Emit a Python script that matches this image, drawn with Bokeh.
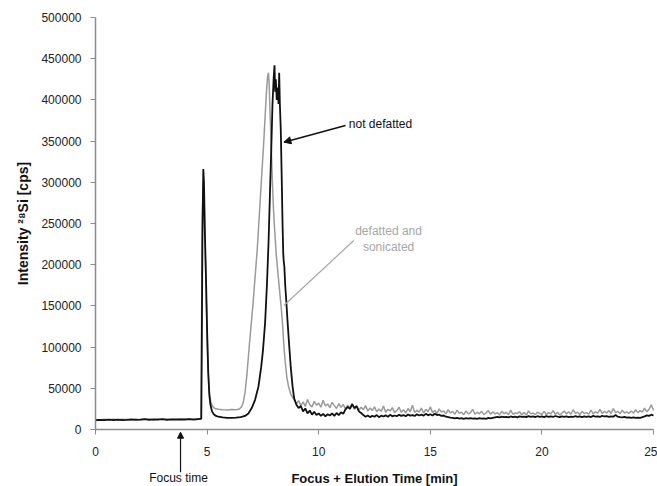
from bokeh.plotting import figure
from bokeh.models import Label, Arrow, NormalHead, Range1d, FixedTicker, PrintfTickFormatter
from bokeh.embed import file_html
from bokeh.resources import INLINE

# ---- data: not defatted (black), up to 9 min ----
t_black_head = [0.0, 0.2, 0.4, 0.6, 0.8, 1.0, 1.2, 1.4, 1.6, 1.8, 2.0, 2.2, 2.4, 2.6, 2.8, 3.0, 3.2, 3.4, 3.6, 3.8,
                4.0, 4.2, 4.4, 4.6, 4.7, 4.74, 4.76, 4.79, 4.83, 4.86, 4.9, 4.95, 5.0, 5.05, 5.1, 5.15, 5.22, 5.3, 5.4, 5.5,
                5.7, 5.9, 6.1, 6.3, 6.5, 6.7, 6.85, 7.0, 7.15, 7.3, 7.42, 7.5, 7.6, 7.68, 7.75, 7.82, 7.88, 7.93, 7.98, 8.02,
                8.05, 8.08, 8.12, 8.16, 8.2, 8.23, 8.26, 8.3, 8.34, 8.38, 8.41, 8.43, 8.46, 8.5, 8.55, 8.6, 8.67, 8.75, 8.83, 8.9]
v_black_head = [11200, 11600, 11300, 11900, 11400, 12100, 11500, 11800, 12300, 11600, 12000, 12600, 11700, 12200, 11900, 12500, 11800, 12300, 12000, 12400,
                11900, 12600, 12100, 12700, 13000, 13000, 90000, 230000, 316000, 300000, 240000, 185000, 120000, 70000, 42000, 30000, 22000, 18500, 16500, 15500,
                14600, 14200, 14000, 14300, 15000, 16500, 19500, 26000, 36000, 52000, 75000, 95000, 130000, 175000, 225000, 290000, 345000, 395000, 425000, 442000,
                410000, 425000, 400000, 415000, 395000, 433000, 395000, 365000, 310000, 250000, 215000, 205000, 198000, 175000, 155000, 133000, 105000, 75000, 52000, 38000]

# ---- data: defatted and sonicated (gray), up to 9 min ----
t_gray_head = [0.0, 0.2, 0.4, 0.6, 0.8, 1.0, 1.2, 1.4, 1.6, 1.8, 2.0, 2.2, 2.4, 2.6, 2.8, 3.0, 3.2, 3.4, 3.6, 3.8,
               4.0, 4.2, 4.4, 4.6, 4.7, 4.73, 4.75, 4.78, 4.82, 4.86, 4.9, 4.95, 5.0, 5.05, 5.1, 5.17, 5.25, 5.35, 5.5, 5.7,
               5.9, 6.1, 6.3, 6.45, 6.55, 6.62, 6.7, 6.78, 6.86, 6.95, 7.05, 7.15, 7.25, 7.35, 7.45, 7.53, 7.6, 7.66, 7.71, 7.75,
               7.78, 7.82, 7.87, 7.92, 7.97, 8.02, 8.1, 8.18, 8.25, 8.32, 8.38, 8.44, 8.5, 8.57, 8.65, 8.75, 8.85, 8.95]
v_gray_head = [12000, 11500, 12300, 11700, 12500, 11800, 12400, 12000, 11600, 12700, 11900, 12300, 12800, 11800, 12600, 12100, 12900, 12200, 12700, 12300,
               13000, 12400, 12800, 13200, 13500, 13500, 120000, 250000, 300000, 290000, 235000, 175000, 115000, 68000, 45000, 33000, 28000, 25500, 24500, 24000,
               23800, 24200, 24000, 25000, 28000, 33000, 45000, 65000, 92000, 120000, 150000, 185000, 220000, 265000, 310000, 345000, 380000, 410000, 428000, 433000,
               420000, 385000, 345000, 305000, 270000, 245000, 212000, 188000, 168000, 148000, 128000, 102000, 82000, 64000, 52000, 43000, 38000, 34000]

# ---- tails, 9 to 25 min, sampled every 0.1 min ----
t_tail = [9.0, 9.1, 9.2, 9.3, 9.4, 9.5, 9.6, 9.7, 9.8, 9.9,
          10.0, 10.1, 10.2, 10.3, 10.4, 10.5, 10.6, 10.7, 10.8, 10.9,
          11.0, 11.1, 11.2, 11.3, 11.4, 11.5, 11.6, 11.7, 11.8, 11.9,
          12.0, 12.1, 12.2, 12.3, 12.4, 12.5, 12.6, 12.7, 12.8, 12.9,
          13.0, 13.1, 13.2, 13.3, 13.4, 13.5, 13.6, 13.7, 13.8, 13.9,
          14.0, 14.1, 14.2, 14.3, 14.4, 14.5, 14.6, 14.7, 14.8, 14.9,
          15.0, 15.1, 15.2, 15.3, 15.4, 15.5, 15.6, 15.7, 15.8, 15.9,
          16.0, 16.1, 16.2, 16.3, 16.4, 16.5, 16.6, 16.7, 16.8, 16.9,
          17.0, 17.1, 17.2, 17.3, 17.4, 17.5, 17.6, 17.7, 17.8, 17.9,
          18.0, 18.1, 18.2, 18.3, 18.4, 18.5, 18.6, 18.7, 18.8, 18.9,
          19.0, 19.1, 19.2, 19.3, 19.4, 19.5, 19.6, 19.7, 19.8, 19.9,
          20.0, 20.1, 20.2, 20.3, 20.4, 20.5, 20.6, 20.7, 20.8, 20.9,
          21.0, 21.1, 21.2, 21.3, 21.4, 21.5, 21.6, 21.7, 21.8, 21.9,
          22.0, 22.1, 22.2, 22.3, 22.4, 22.5, 22.6, 22.7, 22.8, 22.9,
          23.0, 23.1, 23.2, 23.3, 23.4, 23.5, 23.6, 23.7, 23.8, 23.9,
          24.0, 24.1, 24.2, 24.3, 24.4, 24.5, 24.6, 24.7, 24.8, 24.9,
          25.0]
v_black_tail = [30000, 26000, 28500, 22000, 25500, 19500, 23000, 18000, 21500, 17500,
                19500, 16500, 19000, 16000, 18500, 17000, 19500, 16500, 20000, 17500,
                21000, 19000, 24500, 27500, 25000, 30500, 26000, 28500, 22000, 20000,
                17500, 15500, 17000, 15000, 16500, 15500, 17500, 15000, 16800, 15800,
                17200, 15500, 17800, 16000, 17000, 16200, 18000, 16500, 17500, 16000,
                18200, 16800, 17500, 16500, 18500, 17000, 18000, 16800, 19000, 17200,
                18500, 17000, 19200, 17500, 18000, 16500, 17000, 15500, 15000, 14300,
                14000, 13500, 14200, 13300, 13800, 13000, 13700, 13200, 13900, 13100,
                13600, 12900, 13800, 13200, 13500, 13000, 14000, 13400, 14200, 14800,
                15200, 14600, 15600, 14900, 15300, 14700, 15800, 15000, 15500, 14800,
                16000, 15200, 15700, 15000, 16200, 15400, 15900, 15100, 16100, 15300,
                15800, 15000, 16300, 15400, 15900, 15200, 16400, 15500, 15000, 15800,
                15300, 16000, 15100, 15700, 15200, 16200, 15300, 15800, 15000, 16000,
                15400, 15900, 15100, 16500, 15500, 16000, 15200, 16700, 15800, 16200,
                15400, 16000, 15500, 17500, 15600, 15000, 14600, 15200, 14300, 14800,
                14200, 14700, 14000, 14500, 14100, 15000, 16000, 17200, 16500, 18000,
                17000]
v_gray_tail = [31000, 35000, 29000, 33500, 28000, 36500, 30000, 27500, 34000, 29500,
               32000, 27000, 35500, 28500, 31000, 26500, 33000, 29000, 25500, 31500,
               27000, 30500, 25000, 29500, 26000, 32000, 24500, 28000, 23500, 27000,
               24000, 29000, 22500, 26000, 23000, 27500, 21500, 25000, 22000, 28500,
               21000, 24500, 22500, 26500, 20500, 23000, 27000, 21000, 24000, 20000,
               25500, 21500, 29500, 20500, 23500, 21000, 26000, 20000, 24500, 21500,
               27500, 20500, 23000, 19500, 25000, 21000, 22500, 19000, 24000, 20000,
               22000, 18500, 23500, 19500, 21000, 18000, 22500, 19000, 20500, 24500,
               18500, 21000, 19000, 22000, 18000, 20000, 23000, 18500, 21500, 19000,
               20500, 17500, 22000, 19000, 21000, 18000, 23500, 18500, 20000, 19500,
               21500, 18000, 20500, 17500, 22500, 19000, 20000, 18000, 21000, 19500,
               18500, 22000, 18000, 20500, 19000, 23000, 18500, 21000, 17500, 20000,
               22500, 19000, 21500, 18500, 24000, 19500, 21000, 18000, 22000, 19500,
               20500, 18500, 23500, 19000, 21500, 20000, 24500, 19500, 22000, 20000,
               23000, 19500, 25500, 20500, 22000, 19000, 23500, 20000, 21500, 19500,
               22500, 20000, 24000, 20500, 23000, 21000, 26000, 21500, 24500, 30000,
               23000]

t_black = t_black_head + t_tail
v_black = v_black_head + v_black_tail
t_gray = t_gray_head + t_tail
v_gray = v_gray_head + v_gray_tail

x_ticks = [0, 5, 10, 15, 20, 25]
y_ticks = [0, 50000, 100000, 150000, 200000, 250000, 300000, 350000, 400000, 450000, 500000]

# annotation anchor points (data coordinates)
not_defatted_text = (11.35, 371000)
not_defatted_arrow = (11.2, 369000, 8.44, 348700)
gray_text_lines = [(13.13, 241500, "defatted and"), (13.13, 221200, "sonicated")]
gray_pointer = (11.57, 229400, 8.44, 150500)
focus_text = (3.72, -58300)
focus_arrow = (3.81, -51800, 3.81, -3300)

FONT = "Liberation Sans"

# The frame covers the whole canvas; both axes are pinned at 0 so that the
# texts below / left of them stay inside the drawable area.
p = figure(width=657, height=486, output_backend="svg", toolbar_location=None,
           x_range=Range1d(-4.256, 25.179), y_range=Range1d(-69175, 520631),
           min_border_left=0, min_border_right=0, min_border_top=0, min_border_bottom=0)
p.outline_line_color = None
p.grid.grid_line_color = None
p.background_fill_color = "white"
p.border_fill_color = "white"

p.line(t_gray, v_gray, line_color="#9a9a9a", line_width=1.5)
p.line(t_black, v_black, line_color="#111111", line_width=1.8)

for ax in (p.xaxis[0], p.yaxis[0]):
    ax.fixed_location = 0
    ax.axis_line_color = "#8c8c8c"
    ax.axis_line_width = 1.5
    ax.major_tick_line_color = "#8c8c8c"
    ax.minor_tick_line_color = None
    ax.major_tick_in = 0
    ax.major_tick_out = 5
    ax.major_label_text_font = FONT
    ax.major_label_text_font_size = "12px"
    ax.major_label_text_color = "#222222"
    ax.axis_label_text_font = FONT
    ax.axis_label_text_font_style = "bold"
    ax.axis_label_text_color = "#111111"

p.xaxis.bounds = (0, 25)
p.yaxis.bounds = (0, 500000)
p.xaxis.ticker = FixedTicker(ticks=x_ticks)
p.yaxis.ticker = FixedTicker(ticks=y_ticks)
p.yaxis.formatter = PrintfTickFormatter(format="%d")
p.xaxis.major_label_standoff = 13
p.yaxis.major_label_standoff = 9
p.xaxis.axis_label = "Focus + Elution Time [min]"
p.xaxis.axis_label_text_font_size = "13px"
p.xaxis.axis_label_standoff = 11
p.yaxis.axis_label = "Intensity \u00b2\u2078Si [cps]"
p.yaxis.axis_label_text_font_size = "14px"
p.yaxis.axis_label_standoff = 7

# annotations
p.add_layout(Label(x=not_defatted_text[0], y=not_defatted_text[1], text="not defatted",
                   text_font=FONT, text_font_size="12px", text_color="#111111",
                   text_align="left", text_baseline="middle"))
p.add_layout(Arrow(x_start=not_defatted_arrow[0], y_start=not_defatted_arrow[1],
                   x_end=not_defatted_arrow[2], y_end=not_defatted_arrow[3],
                   line_color="#111111", line_width=1.5,
                   end=NormalHead(size=7, fill_color="#111111", line_color="#111111")))
for gx, gy, gt in gray_text_lines:
    p.add_layout(Label(x=gx, y=gy, text=gt, text_font=FONT, text_font_size="12px",
                       text_color="#a6a6a6", text_align="center", text_baseline="middle"))
p.add_layout(Arrow(x_start=gray_pointer[0], y_start=gray_pointer[1],
                   x_end=gray_pointer[2], y_end=gray_pointer[3],
                   line_color="#a6a6a6", line_width=1.2, end=None))
p.add_layout(Label(x=focus_text[0], y=focus_text[1], text="Focus time",
                   text_font=FONT, text_font_size="12px", text_color="#111111",
                   text_align="center", text_baseline="middle"))
p.add_layout(Arrow(x_start=focus_arrow[0], y_start=focus_arrow[1],
                   x_end=focus_arrow[2], y_end=focus_arrow[3],
                   line_color="#111111", line_width=1.2,
                   end=NormalHead(size=6, fill_color="#111111", line_color="#111111")))

open("out.html", "w").write(file_html(p, INLINE))
